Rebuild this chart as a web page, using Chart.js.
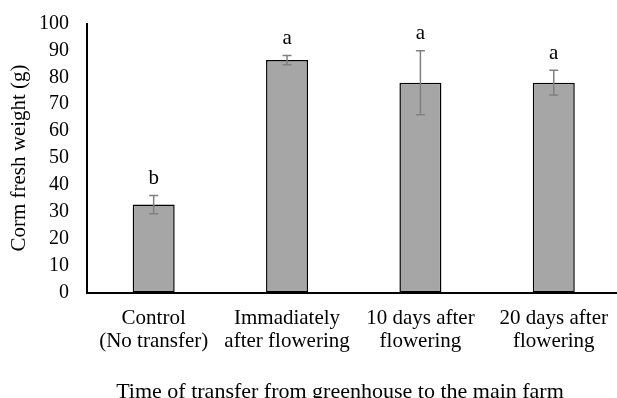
<!DOCTYPE html>
<html>
<head>
<meta charset="utf-8">
<script src="https://cdn.jsdelivr.net/npm/chart.js@4/dist/chart.umd.min.js"></script>
<style>
html,body{margin:0;padding:0;background:#fff;overflow:hidden;}
#wrap{width:622px;height:398px;position:relative;}
</style>
</head>
<body>
<div id="wrap"><canvas id="c" width="622" height="398"></canvas></div>
<script>
const categories = [["Control","(No transfer)"],["Immadiately","after flowering"],["10 days after","flowering"],["20 days after","flowering"]];
const means = [32.7, 86.4, 78.0, 78.0];
const errors = [3.4, 1.7, 11.9, 4.6];
const letters = ["b", "a", "a", "a"];
const yTicks = [0,10,20,30,40,50,60,70,80,90,100];
const xTitle = "Time of transfer from greenhouse to the main farm";

const FONT = "'Liberation Serif','Times New Roman',serif";

const errPlugin = {
  id: 'errLetters',
  afterDatasetsDraw(chart) {
    const ctx = chart.ctx;
    const meta = chart.getDatasetMeta(0);
    const y = chart.scales.y;
    ctx.save();
    meta.data.forEach((bar, i) => {
      const x = bar.x;
      const top = y.getPixelForValue(means[i] + errors[i]);
      const bot = y.getPixelForValue(means[i] - errors[i]);
      ctx.strokeStyle = '#808080';
      ctx.lineWidth = 1.5;
      ctx.beginPath();
      ctx.moveTo(x, top); ctx.lineTo(x, bot);
      ctx.moveTo(x - 4.5, top); ctx.lineTo(x + 4.5, top);
      ctx.moveTo(x - 4.5, bot); ctx.lineTo(x + 4.5, bot);
      ctx.stroke();
      ctx.fillStyle = '#000';
      ctx.font = '21px ' + FONT;
      ctx.textAlign = 'center';
      ctx.textBaseline = 'middle';
      ctx.fillText(letters[i], x, top - 17);
    });
    ctx.restore();
  },
  afterDraw(chart) {
    const ctx = chart.ctx;
    ctx.save();
    ctx.fillStyle = '#000';
    ctx.font = '22px ' + FONT;
    ctx.textAlign = 'center';
    ctx.textBaseline = 'alphabetic';
    ctx.fillText(xTitle, 340, 397.5);
    ctx.restore();
  }
};

new Chart(document.getElementById('c'), {
  type: 'bar',
  data: {
    labels: categories,
    datasets: [{
      data: means,
      backgroundColor: '#a6a6a6',
      borderColor: '#000',
      borderWidth: 1.5,
      borderSkipped: false,
      barPercentage: 0.315,
      categoryPercentage: 1.0
    }]
  },
  options: {
    responsive: false,
    animation: false,
    layout: { padding: { top: 23.5, right: 0, bottom: 0, left: 0 } },
    plugins: { legend: { display: false }, tooltip: { enabled: false } },
    scales: {
      x: {
        grid: { display: false, drawTicks: false },
        border: { display: true, color: '#000', width: 2 },
        ticks: { color: '#000', font: { family: FONT, size: 21, lineHeight: 1.1 }, padding: 14, maxRotation: 0, autoSkip: false },
        afterFit(s) { s.height = 105.5; }
      },
      y: {
        min: 0, max: 100,
        afterBuildTicks(s) { s.ticks = yTicks.map(v => ({ value: v })); },
        grid: { display: false, drawOnChartArea: false, drawTicks: true, tickLength: 18, tickColor: 'rgba(0,0,0,0)' },
        border: { display: true, color: '#000', width: 2 },
        ticks: { color: '#000', font: { family: FONT, size: 20 }, padding: 0, autoSkip: false },
        title: { display: true, text: 'Corm fresh weight (g)', color: '#000', font: { family: FONT, size: 21, lineHeight: 1.9 }, padding: 0 },
        afterFit(s) { s.width = 87; }
      }
    }
  },
  plugins: [errPlugin]
});
</script>
</body>
</html>
